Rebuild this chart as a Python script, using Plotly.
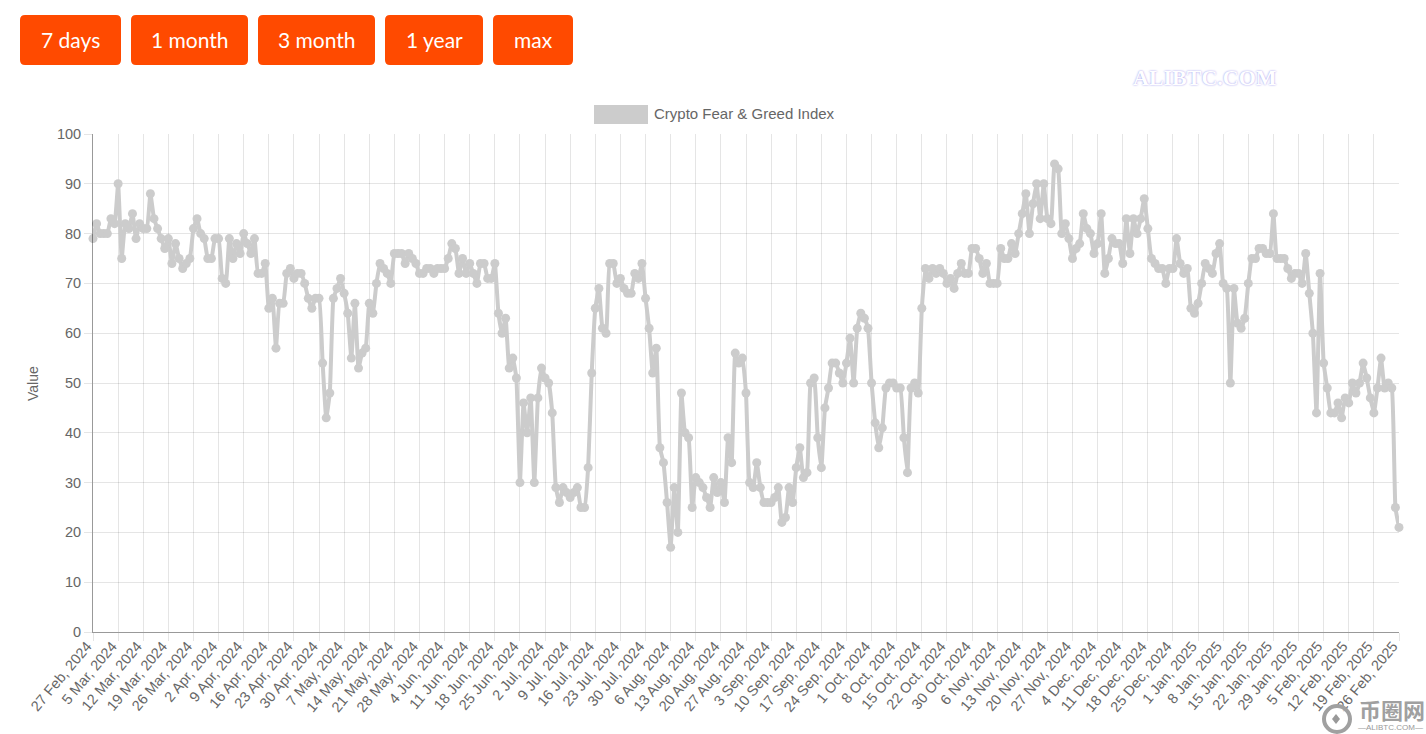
import plotly.graph_objects as go

values = [
    79, 82, 80, 80, 80, 83, 82, 90, 75, 82,
    81, 84, 79, 82, 81, 81, 88, 83, 81, 79,
    77, 79, 74, 78, 75, 73, 74, 75, 81, 83,
    80, 79, 75, 75, 79, 79, 71, 70, 79, 75,
    78, 76, 80, 78, 76, 79, 72, 72, 74, 65,
    67, 57, 66, 66, 72, 73, 71, 72, 72, 70,
    67, 65, 67, 67, 54, 43, 48, 67, 69, 71,
    68, 64, 55, 66, 53, 56, 57, 66, 64, 70,
    74, 73, 72, 70, 76, 76, 76, 74, 76, 75,
    74, 72, 72, 73, 73, 72, 73, 73, 73, 75,
    78, 77, 72, 75, 72, 74, 72, 70, 74, 74,
    71, 71, 74, 64, 60, 63, 53, 55, 51, 30,
    46, 40, 47, 30, 47, 53, 51, 50, 44, 29,
    26, 29, 28, 27, 28, 29, 25, 25, 33, 52,
    65, 69, 61, 60, 74, 74, 70, 71, 69, 68,
    68, 72, 71, 74, 67, 61, 52, 57, 37, 34,
    26, 17, 29, 20, 48, 40, 39, 25, 31, 30,
    29, 27, 25, 31, 28, 30, 26, 39, 34, 56,
    54, 55, 48, 30, 29, 34, 29, 26, 26, 26,
    27, 29, 22, 23, 29, 26, 33, 37, 31, 32,
    50, 51, 39, 33, 45, 49, 54, 54, 52, 50,
    54, 59, 50, 61, 64, 63, 61, 50, 42, 37,
    41, 49, 50, 50, 49, 49, 39, 32, 49, 50,
    48, 65, 73, 71, 73, 72, 73, 72, 70, 71,
    69, 72, 74, 72, 72, 77, 77, 75, 72, 74,
    70, 70, 70, 77, 75, 75, 78, 76, 80, 84,
    88, 80, 86, 90, 83, 90, 83, 82, 94, 93,
    80, 82, 79, 75, 77, 78, 84, 81, 80, 76,
    78, 84, 72, 75, 79, 78, 78, 74, 83, 76,
    83, 80, 83, 87, 81, 75, 74, 73, 73, 70,
    73, 73, 79, 74, 72, 73, 65, 64, 66, 70,
    74, 73, 72, 76, 78, 70, 69, 50, 69, 62,
    61, 63, 70, 75, 75, 77, 77, 76, 76, 84,
    75, 75, 75, 73, 71, 72, 72, 70, 76, 68,
    60, 44, 72, 54, 49, 44, 44, 46, 43, 47,
    46, 50, 48, 50, 54, 51, 47, 44, 49, 55,
    49, 50, 49, 25, 21,
]

# every 7th point is labelled
tick_labels = [
    "27 Feb, 2024", "5 Mar, 2024", "12 Mar, 2024", "19 Mar, 2024", "26 Mar, 2024",
    "2 Apr, 2024", "9 Apr, 2024", "16 Apr, 2024", "23 Apr, 2024", "30 Apr, 2024",
    "7 May, 2024", "14 May, 2024", "21 May, 2024", "28 May, 2024", "4 Jun, 2024",
    "11 Jun, 2024", "18 Jun, 2024", "25 Jun, 2024", "2 Jul, 2024", "9 Jul, 2024",
    "16 Jul, 2024", "23 Jul, 2024", "30 Jul, 2024", "6 Aug, 2024", "13 Aug, 2024",
    "20 Aug, 2024", "27 Aug, 2024", "3 Sep, 2024", "10 Sep, 2024", "17 Sep, 2024",
    "24 Sep, 2024", "1 Oct, 2024", "8 Oct, 2024", "15 Oct, 2024", "22 Oct, 2024",
    "30 Oct, 2024", "6 Nov, 2024", "13 Nov, 2024", "20 Nov, 2024", "27 Nov, 2024",
    "4 Dec, 2024", "11 Dec, 2024", "18 Dec, 2024", "25 Dec, 2024", "1 Jan, 2025",
    "8 Jan, 2025", "15 Jan, 2025", "22 Jan, 2025", "29 Jan, 2025", "5 Feb, 2025",
    "12 Feb, 2025", "19 Feb, 2025", "26 Feb, 2025",
]

button_labels = ["7 days", "1 month", "3 month", "1 year", "max"]
button_edges = [(20, 121), (131, 248), (258, 375), (385, 483), (493, 573)]

W, H = 1426, 734
LEFT, RIGHT, TOP, BOTTOM = 93, 1399, 134, 632
FONT = "Liberation Sans, Arial, sans-serif"
GREY = "#666666"
ORANGE = "#ff4a00"


def px(x):
    return (x - LEFT) / (RIGHT - LEFT)


def py(y):
    return (BOTTOM - y) / (BOTTOM - TOP)


def label(x, y, text, size=15, color=GREY, family=FONT, xanchor="center", font_extra=None, **kw):
    return dict(x=px(x), y=py(y), xref="paper", yref="paper", text=text, showarrow=False,
                xanchor=xanchor, yanchor="middle",
                font=dict(size=size, color=color, family=family, **(font_extra or {})), **kw)


def rounded_rect(x0, x1, y0, y1, r=5):
    return (f"M {px(x0 + r)} {py(y0)} L {px(x1 - r)} {py(y0)} "
            f"Q {px(x1)} {py(y0)} {px(x1)} {py(y0 + r)} L {px(x1)} {py(y1 - r)} "
            f"Q {px(x1)} {py(y1)} {px(x1 - r)} {py(y1)} L {px(x0 + r)} {py(y1)} "
            f"Q {px(x0)} {py(y1)} {px(x0)} {py(y1 - r)} L {px(x0)} {py(y0 + r)} "
            f"Q {px(x0)} {py(y0)} {px(x0 + r)} {py(y0)} Z")


fig = go.Figure()

fig.add_trace(go.Scatter(
    x=list(range(len(values))),
    y=values,
    mode="lines+markers",
    line=dict(color="#cccccc", width=4, shape="spline", smoothing=0.35),
    marker=dict(color="#cccccc", size=9),
    cliponaxis=False,
    showlegend=False,
    name="Crypto Fear & Greed Index",
))

shapes = []
annotations = []

# range buttons along the top
for text, (x0, x1) in zip(button_labels, button_edges):
    shapes.append(dict(type="path", path=rounded_rect(x0, x1, 15, 65), xref="paper", yref="paper",
                       fillcolor=ORANGE, line_width=0))
    annotations.append(label((x0 + x1) / 2, 39, text, size=21, color="white", family="Lato"))

# legend box + text
shapes.append(dict(type="rect", x0=px(594), x1=px(648), y0=py(105), y1=py(124), xref="paper", yref="paper",
                   fillcolor="#cccccc", line_width=0))
annotations.append(label(652, 114, "Crypto Fear & Greed Index", xanchor="left"))

annotations.append(label(33, 384, "Value", size=14, textangle=-90))

# watermarks
annotations.append(label(1205, 78, "<b>ALIBTC.COM</b>", size=22, color="white", family="Liberation Serif",
                         font_extra=dict(shadow="0 0 2px #8f88ea")))
shapes.append(dict(type="circle", x0=px(1324), x1=px(1350), y0=py(706), y1=py(732), xref="paper", yref="paper",
                   line=dict(color="#a0a0a0", width=4), fillcolor="rgba(255,255,255,0.6)"))
shapes.append(dict(type="path", path=f"M {px(1336)} {py(714)} L {px(1340)} {py(719)} L {px(1336)} {py(724)} "
                                     f"L {px(1332)} {py(719)} Z",
                   xref="paper", yref="paper", fillcolor="#999999", line_width=0))
annotations.append(label(1392, 709, "<b>币圈网</b>", size=22, color="#a0a0a0", family="Noto Sans CJK SC"))
annotations.append(label(1390, 727, "—ALIBTC.COM—", size=8, color="#999999"))

fig.update_layout(
    width=W,
    height=H,
    margin=dict(l=LEFT, r=W - RIGHT, t=TOP, b=H - BOTTOM, autoexpand=False),
    paper_bgcolor="white",
    plot_bgcolor="white",
    font=dict(family=FONT, size=14, color=GREY),
    shapes=shapes,
    annotations=annotations,
    xaxis=dict(
        range=[0, len(values) - 1],
        tickvals=list(range(0, len(values), 7)),
        ticktext=tick_labels,
        tickangle=-50,
        tickfont=dict(size=14.5, color=GREY),
        ticklabelshift=-6,
        ticklabelstandoff=-9,
        showgrid=True,
        gridcolor="rgba(0,0,0,0.1)",
        ticks="outside",
        ticklen=8,
        tickcolor="rgba(0,0,0,0.1)",
        showline=True,
        linecolor="rgba(0,0,0,0.4)",
        zeroline=False,
    ),
    yaxis=dict(
        range=[0, 100],
        dtick=10,
        tickfont=dict(size=14.5, color=GREY),
        showgrid=True,
        gridcolor="rgba(0,0,0,0.1)",
        ticks="outside",
        ticklen=8,
        tickcolor="rgba(0,0,0,0.1)",
        showline=True,
        linecolor="rgba(0,0,0,0.4)",
        zeroline=False,
    ),
)

fig.write_html("out.html", config=dict(displayModeBar=False),
               post_script="document.body.style.margin='0';document.body.style.overflow='hidden';")
